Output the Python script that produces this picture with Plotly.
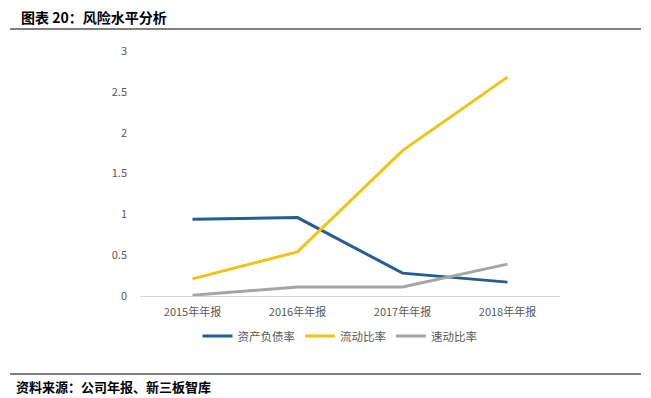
import plotly.graph_objects as go

categories = ["2015年年报", "2016年年报", "2017年年报", "2018年年报"]
debt_ratio = [0.94, 0.96, 0.28, 0.17]
current_ratio = [0.21, 0.54, 1.78, 2.68]
quick_ratio = [0.01, 0.11, 0.11, 0.39]
series_names = ["资产负债率", "流动比率", "速动比率"]
colors = ["#255E91", "#F2C311", "#A5A5A5"]

fig = go.Figure()
for name, vals, c in zip(series_names, [debt_ratio, current_ratio, quick_ratio], colors):
    fig.add_trace(go.Scatter(x=categories, y=vals, mode="lines", name=name,
                             line=dict(color=c, width=3)))

# page has an 8px body margin; work in reference pixels minus 8
OFF = 8
W, H = 651 - OFF, 398 - OFF
ml, mr, mt, mb = 140 - OFF, 91, 51 - OFF, 102
PW, PH = W - ml - mr, H - mt - mb

def py(pix):
    return (H - mb - (pix - OFF)) / PH
def px(pix):
    return ((pix - OFF) - ml) / PW

fig.update_layout(
    width=W, height=H,
    margin=dict(l=ml, r=mr, t=mt, b=mb),
    paper_bgcolor="white", plot_bgcolor="white",
    font=dict(family="Noto Sans CJK SC", size=11, color="#595959"),
    xaxis=dict(range=[-0.5, 3.5], showgrid=False, showline=True, linecolor="#D9D9D9",
               linewidth=1, ticks="", zeroline=False, ticklabelstandoff=6,
               tickfont=dict(size=11, color="#595959")),
    yaxis=dict(range=[0, 3], tickvals=[0, 0.5, 1, 1.5, 2, 2.5, 3],
               ticktext=["0", "0.5", "1", "1.5", "2", "2.5", "3"],
               showgrid=False, showline=False, zeroline=False, ticks="",
               ticklabelstandoff=12, tickfont=dict(size=11, color="#595959")),
    legend=dict(orientation="h", x=px(340), xanchor="center", y=py(336), yanchor="middle",
                font=dict(size=11.5, color="#595959"), itemwidth=30, tracegroupgap=0),
    showlegend=True,
)

fig.add_annotation(text="<b>图表 20：风险水平分析</b>", xref="paper", yref="paper",
                   x=px(19), y=py(17), xanchor="left", yanchor="middle", showarrow=False,
                   font=dict(family="Noto Sans CJK SC", size=14, color="#000000"))
fig.add_annotation(text="<b>资料来源：公司年报、新三板智库</b>", xref="paper", yref="paper",
                   x=px(14), y=py(386), xanchor="left", yanchor="middle", showarrow=False,
                   font=dict(family="Noto Sans CJK SC", size=13, color="#000000"))

fig.add_shape(type="line", xref="paper", yref="paper", x0=px(10), x1=px(641), y0=py(29), y1=py(29),
              line=dict(color="#000000", width=1))
fig.add_shape(type="line", xref="paper", yref="paper", x0=px(10), x1=px(641), y0=py(374), y1=py(374),
              line=dict(color="#000000", width=1))

fig.write_html("out.html")
